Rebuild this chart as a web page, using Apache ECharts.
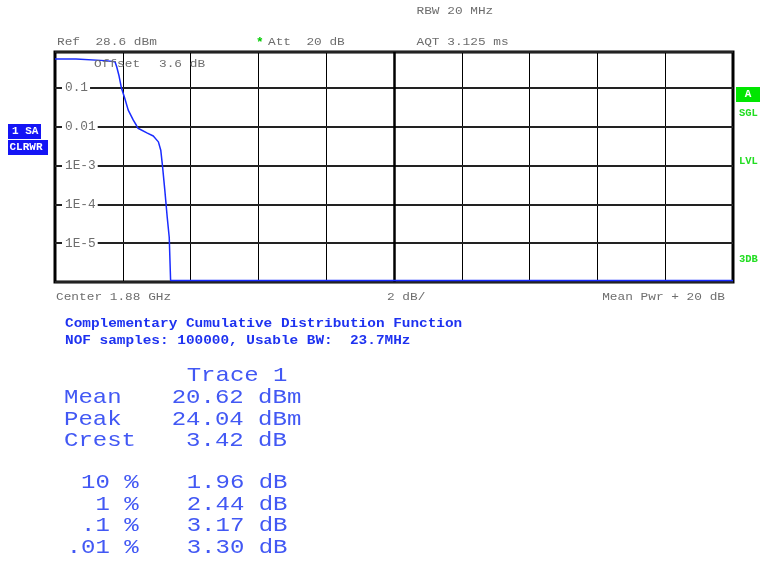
<!DOCTYPE html>
<html><head><meta charset="utf-8">
<script src="https://cdn.jsdelivr.net/npm/echarts@6/dist/echarts.min.js"></script>
<style>html,body{margin:0;padding:0;background:#fff}#c{width:760px;height:563px}</style>
</head><body><div id="c"></div>
<script>
// CCDF trace: x = dB above mean power, y = probability
const ccdfDb   = [0, 0.62, 0.65, 1.47, 1.77, 1.82, 1.89, 1.96, 2.06, 2.16, 2.31, 2.40, 2.45, 2.71, 2.90, 3.05, 3.12, 3.17, 3.24, 3.31, 3.37, 3.41, 20];
const ccdfProb = [0.56, 0.56, 0.51, 0.51, 0.48, 0.355, 0.204, 0.1, 0.054, 0.027, 0.0149, 0.011, 0.0092, 0.0070, 0.0058, 0.0041, 0.0025, 0.001, 0.00023, 0.000047, 0.000014, 0.0000011, 0.0000011];
const xMin = 0, xMax = 20, xStep = 2;
const yMin = 1e-6, yMax = 0.851;
const yTickLabels = {'-1': '0.1', '-2': '0.01', '-3': '1E-3', '-4': '1E-4', '-5': '1E-5'};
const statLabels = ['Mean', 'Peak', 'Crest'];
const statValues = ['20.62 dBm', '24.04 dBm', ' 3.42 dB'];
const pctLabels = ['10 %', '1 %', '.1 %', '.01 %'];
const pctValues = ['1.96 dB', '2.44 dB', '3.17 dB', '3.30 dB'];

const MONO = '"Liberation Mono", "DejaVu Sans Mono", monospace';
const GRAY = '#6e6e6e';
const BLUE_T = '#4258f4';
const BLUE_B = '#1e32f0';

function txt(x, y, text, size, color, opt) {
  opt = opt || {};
  return {
    type: 'text', x: x, y: y, silent: true, z: 100,
    scaleY: opt.sy || 1,
    style: {
      text: text, fontSize: size, fontFamily: MONO, fontWeight: opt.bold ? 'bold' : 'normal',
      fill: color, align: opt.align || 'left', verticalAlign: 'middle',
      textAlign: opt.align || 'left', textVerticalAlign: 'middle'
    }
  };
}

const graphics = [
  txt(416.5, 10.5, 'RBW 20 MHz', 12.8, GRAY, {sy: 0.9}),
  txt(57, 42.3, 'Ref  28.6 dBm', 12.8, GRAY, {sy: 0.9}),
  txt(256, 42.3, '*', 12.8, '#00cc00', {bold: true}),
  txt(268, 42.3, 'Att  20 dB', 12.8, GRAY, {sy: 0.9}),
  txt(416.5, 42.3, 'AQT 3.125 ms', 12.8, GRAY, {sy: 0.9}),
  txt(94, 64, 'Offset', 12.8, GRAY, {sy: 0.9}),
  txt(159, 64, '3.6 dB', 12.8, GRAY, {sy: 0.9}),
  txt(56, 297, 'Center 1.88 GHz', 12.8, GRAY, {sy: 0.9}),
  txt(387, 297, '2 dB/', 12.8, GRAY, {sy: 0.9}),
  txt(725, 297, 'Mean Pwr + 20 dB', 12.8, GRAY, {align: 'right', sy: 0.9}),
  txt(65, 324, 'Complementary Cumulative Distribution Function', 14.4, BLUE_B, {bold: true, sy: 0.85}),
  txt(65, 341, 'NOF samples: 100000, Usable BW:  23.7MHz', 14.4, BLUE_B, {bold: true, sy: 0.85}),
  // left trace markers
  {type: 'rect', silent: true, shape: {x: 8, y: 124, width: 33, height: 15}, style: {fill: '#1414f5'}},
  txt(12, 131.5, '1 SA', 11, '#ffffff', {bold: true}),
  {type: 'rect', silent: true, shape: {x: 8, y: 140, width: 40, height: 15}, style: {fill: '#1414f5'}},
  txt(9.5, 147.5, 'CLRWR', 11, '#ffffff', {bold: true}),
  // right markers
  {type: 'rect', silent: true, shape: {x: 736, y: 87, width: 24, height: 15}, style: {fill: '#00e600'}},
  txt(748, 94.5, 'A', 11, '#ffffff', {bold: true, align: 'center'}),
  txt(739, 113, 'SGL', 10.5, '#22dd22', {bold: true}),
  txt(739, 161, 'LVL', 10.5, '#22dd22', {bold: true}),
  txt(739, 259, '3DB', 10.5, '#22dd22', {bold: true}),
  // statistics table
  txt(186.7, 376, 'Trace 1', 24, BLUE_T, {sy: 0.85})
];
const statY = [397.8, 419.3, 441];
statLabels.forEach((s, i) => {
  graphics.push(txt(64, statY[i], s, 24, BLUE_T, {sy: 0.85}));
  graphics.push(txt(171.7, statY[i], statValues[i], 24, BLUE_T, {sy: 0.85}));
});
const pctY = [483, 504.5, 526, 548];
pctLabels.forEach((s, i) => {
  graphics.push(txt(138.7, pctY[i], s, 24, BLUE_T, {align: 'right', sy: 0.85}));
  graphics.push(txt(186.7, pctY[i], pctValues[i], 24, BLUE_T, {sy: 0.85}));
});

const chart = echarts.init(document.getElementById('c'), null, {renderer: 'canvas'});
chart.setOption({
  animation: false,
  backgroundColor: '#ffffff',
  grid: {left: 55, right: 27, top: 52, height: 230, show: true, borderColor: '#000', borderWidth: 3, backgroundColor: 'transparent', z: 3},
  xAxis: {
    type: 'value', min: xMin, max: xMax, interval: xStep,
    axisLine: {show: false}, axisTick: {show: false}, axisLabel: {show: false},
    splitLine: {show: true, lineStyle: {color: '#000', width: 1}}
  },
  yAxis: {
    type: 'log', logBase: 10, min: yMin, max: yMax,
    axisLine: {show: false}, axisTick: {show: false},
    splitLine: {show: true, lineStyle: {color: '#222', width: 2}},
    axisLabel: {
      show: true, inside: true, margin: 7, color: GRAY, fontFamily: MONO, fontSize: 12.8,
      backgroundColor: '#ffffff', padding: [1, 2, 1, 3],
      showMinLabel: false, showMaxLabel: false,
      formatter: function (v) {
        const l = Math.log10(v);
        const r = Math.round(l);
        if (Math.abs(l - r) > 0.01) return '';
        return yTickLabels[String(r)] || '';
      }
    },
    z: 4
  },
  series: [{
    type: 'line', data: ccdfDb.map((d, i) => [d, ccdfProb[i]]),
    showSymbol: false, symbol: 'none', smooth: false,
    lineStyle: {color: '#1a2cff', width: 1.5}, itemStyle: {color: '#1a2cff'},
    z: 5,
    markLine: {
      silent: true, symbol: 'none', label: {show: false},
      lineStyle: {color: '#000', width: 2.5, type: 'solid'},
      data: [{xAxis: 10}]
    }
  }],
  graphic: graphics
});
</script>
</body></html>
